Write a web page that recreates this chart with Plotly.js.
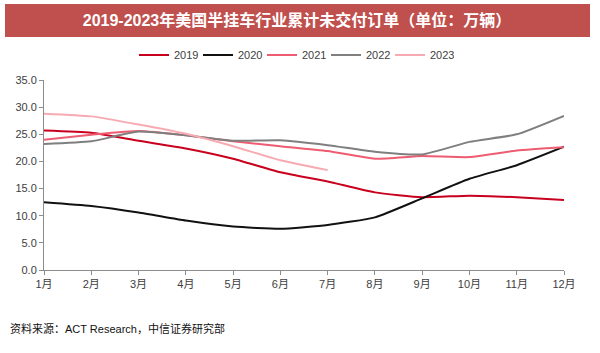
<!DOCTYPE html>
<html>
<head>
<meta charset="utf-8">
<script src="https://cdn.plot.ly/plotly-3.0.1.min.js"></script>
<style>html,body{margin:0;padding:0;background:#fff;}#chart{width:600px;height:353px;}</style>
</head>
<body>
<div id="chart"></div>
<script>
const months = ['1月','2月','3月','4月','5月','6月','7月','8月','9月','10月','11月','12月'];
const y2019 = [25.7, 25.3, 23.8, 22.4, 20.5, 18.0, 16.3, 14.3, 13.4, 13.7, 13.4, 12.9];
const y2020 = [12.5, 11.8, 10.6, 9.1, 8.0, 7.6, 8.3, 9.7, 13.2, 16.8, 19.3, 22.7];
const y2021 = [24.0, 24.9, 25.6, 24.8, 23.7, 22.8, 21.9, 20.5, 21.0, 20.8, 22.0, 22.6];
const y2022 = [23.2, 23.7, 25.5, 24.8, 23.8, 23.9, 23.0, 21.8, 21.3, 23.6, 25.0, 28.4];
const y2023 = [28.8, 28.3, 26.8, 25.1, 22.8, 20.2, 18.4];
const seriesNames = ['2019','2020','2021','2022','2023'];
const seriesColors = ['#C8001E','#111111','#EE5C72','#7F7F7F','#F8AAB2'];
const seriesData = [y2019, y2020, y2021, y2022, y2023];

const xIdx = months.map((m,i)=>i);
const traces = seriesData.map((d,k)=>({
  type:'scatter', mode:'lines', name: seriesNames[k],
  x: xIdx.slice(0,d.length), y: d,
  line:{color: seriesColors[k], width:2, shape:'spline', smoothing:0.5},
  hoverinfo:'skip'
}));

const W=600,H=353,L=44,R=36,T=80,B=83;
const pw=W-L-R, ph=H-T-B;
const px=v=>(v-L)/pw, py=v=>(H-B-v)/ph;
const fontFam = 'Liberation Sans, Arial, Noto Sans CJK SC, sans-serif';

const layout = {
  width:W, height:H,
  margin:{l:L,r:R,t:T,b:B,pad:0},
  paper_bgcolor:'#fff', plot_bgcolor:'#fff',
  font:{family:fontFam, size:11, color:'#404040'},
  title:{text:'<b>2019-2023年美国半挂车行业累计未交付订单（单位：万辆）</b>',
    font:{family:'Liberation Sans, Noto Sans CJK SC, sans-serif', size:16, color:'#ffffff'},
    x:297/W, xanchor:'center', xref:'container', y:1-20.5/H, yanchor:'middle', yref:'container'},
  shapes:[{type:'rect', xref:'paper', yref:'paper', x0:px(5), x1:px(590), y0:py(37), y1:py(4),
    fillcolor:'#C0504D', line:{width:0}, layer:'below'}],
  xaxis:{range:[0,11], tickvals:xIdx, ticktext:months, showgrid:false, zeroline:false,
    showline:true, linecolor:'#8c8c8c', linewidth:1, ticks:'outside', ticklen:4, tickcolor:'#8c8c8c',
    tickfont:{size:11, color:'#404040'}, fixedrange:true},
  yaxis:{range:[0,35], dtick:5, tickformat:'.1f', showgrid:false, zeroline:false,
    showline:true, linecolor:'#8c8c8c', linewidth:1, ticks:'outside', ticklen:4, tickcolor:'#8c8c8c',
    tickfont:{size:11, color:'#404040'}, fixedrange:true},
  legend:{orientation:'h', x:px(294), xanchor:'center', y:py(55), yanchor:'middle',
    font:{size:11, color:'#404040'}, entrywidth:19, entrywidthmode:'pixels', itemwidth:30,
    bgcolor:'rgba(0,0,0,0)'},
  annotations:[{text:'资料来源：ACT Research，中信证券研究部', xref:'paper', yref:'paper',
    x:px(8), y:py(328), xanchor:'left', yanchor:'middle', showarrow:false,
    font:{family:'Liberation Sans, Noto Sans CJK SC, sans-serif', size:11, color:'#111'}}],
  showlegend:true
};
Plotly.newPlot('chart', traces, layout, {displayModeBar:false, staticPlot:true});
</script>
</body>
</html>
